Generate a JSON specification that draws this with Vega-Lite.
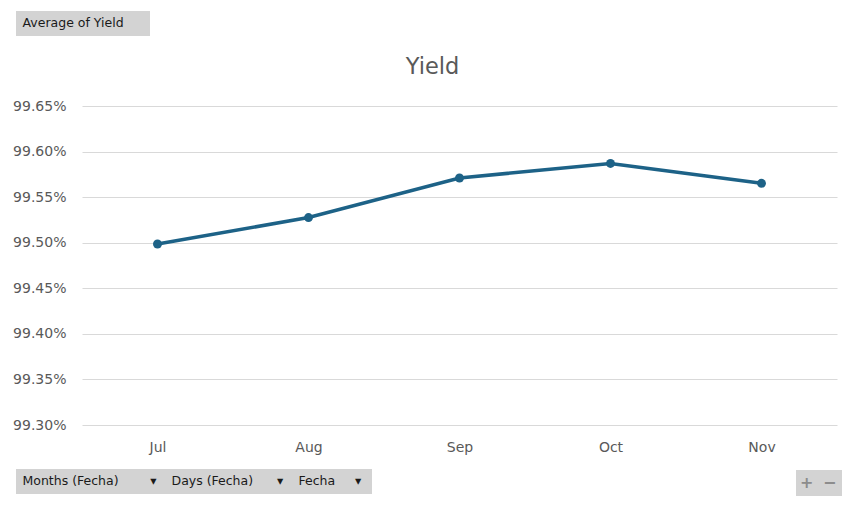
{
  "$schema": "https://vega.github.io/schema/vega-lite/v6.json",
  "width": 755,
  "height": 319,
  "autosize": {"type": "none"},
  "padding": {"left": 82, "top": 106, "right": 22, "bottom": 81},
  "background": "#ffffff",
  "title": {
    "text": "Yield",
    "font": "DejaVu Sans",
    "fontSize": 22.5,
    "fontWeight": "normal",
    "color": "#595959",
    "anchor": "middle",
    "frame": "group",
    "dx": -27,
    "baseline": "alphabetic",
    "offset": -85
  },
  "datasets": {
    "yield": [
      {"month": "Jul", "yield": 0.994986, "series": "Average of Yield"},
      {"month": "Aug", "yield": 0.995276, "series": "Average of Yield"},
      {"month": "Sep", "yield": 0.99571, "series": "Average of Yield"},
      {"month": "Oct", "yield": 0.99587, "series": "Average of Yield"},
      {"month": "Nov", "yield": 0.995652, "series": "Average of Yield"}
    ],
    "fields": [
      {"field": "Months (Fecha)"},
      {"field": "Days (Fecha)"},
      {"field": "Fecha"}
    ],
    "zoom": [
      {"btn": "+"},
      {"btn": "−"}
    ]
  },
  "layer": [
    {
      "data": {"name": "yield"},
      "mark": {"type": "line", "strokeWidth": 3.5},
      "encoding": {
        "x": {
          "field": "month", "type": "nominal", "sort": null,
          "scale": {"type": "point", "padding": 0.5},
          "axis": {"title": null, "labelAngle": 0, "ticks": false, "domain": false, "grid": false, "labelPadding": 15}
        },
        "y": {
          "field": "yield", "type": "quantitative",
          "scale": {"domain": [0.993, 0.9965], "zero": false, "nice": false},
          "axis": {
            "title": null, "format": ".2%", "ticks": false, "domain": false,
            "values": [0.993, 0.9935, 0.994, 0.9945, 0.995, 0.9955, 0.996, 0.9965],
            "labelPadding": 16, "gridColor": "#d9d9d9", "gridWidth": 1
          }
        },
        "color": {
          "field": "series", "type": "nominal",
          "scale": {"range": ["#1d6287"]},
          "legend": {
            "orient": "none", "legendX": -66, "legendY": -95, "title": null,
            "fillColor": "#d3d3d3", "padding": 6,
            "symbolSize": 0, "symbolOpacity": 0, "symbolStrokeWidth": 0, "labelOffset": -12,
            "labelFont": "DejaVu Sans", "labelFontSize": 12.5, "labelColor": "#1a1a1a",
            "labelExpr": "datum.label + '\u00a0\u00a0\u00a0\u00a0\u00a0\u200b'"
          }
        }
      }
    },
    {
      "data": {"name": "yield"},
      "mark": {"type": "point", "filled": true, "size": 80, "opacity": 1, "color": "#1d6287"},
      "encoding": {
        "x": {"field": "month", "type": "nominal", "sort": null},
        "y": {"field": "yield", "type": "quantitative"}
      }
    },
    {
      "data": {"name": "fields"},
      "mark": {"type": "point", "opacity": 0},
      "encoding": {
        "shape": {
          "field": "field", "type": "nominal", "sort": null,
          "legend": {
            "orient": "none", "legendX": -66, "legendY": 363, "title": null,
            "direction": "horizontal", "columns": 3, "columnPadding": 14,
            "fillColor": "#d3d3d3", "padding": 6,
            "symbolSize": 0, "symbolOpacity": 0, "symbolStrokeWidth": 0, "labelOffset": -12,
            "labelFont": "DejaVu Sans", "labelFontSize": 12.5, "labelColor": "#1a1a1a", "labelLimit": 300,
            "labelExpr": "datum.label + (datum.label == 'Months (Fecha)' ? '\u00a0\u00a0\u00a0\u00a0\u00a0\u00a0\u00a0\u00a0▾' : datum.label == 'Days (Fecha)' ? '\u00a0\u00a0\u00a0\u00a0\u00a0\u00a0▾' : '\u00a0\u00a0\u00a0\u00a0\u00a0▾\u00a0\u200b')"
          }
        }
      }
    },
    {
      "data": {"name": "zoom"},
      "mark": {"type": "point", "opacity": 0},
      "encoding": {
        "strokeDash": {
          "field": "btn", "type": "nominal", "sort": null,
          "legend": {
            "orient": "none", "legendX": 714, "legendY": 364, "title": null,
            "direction": "horizontal", "columns": 2, "columnPadding": 9,
            "fillColor": "#d3d3d3", "padding": 5,
            "symbolSize": 0, "symbolOpacity": 0, "symbolStrokeWidth": 0, "labelOffset": -17,
            "labelFont": "DejaVu Sans", "labelFontSize": 16, "labelFontWeight": "bold", "labelColor": "#8c8c8c"
          }
        }
      }
    }
  ],
  "config": {
    "view": {"stroke": null},
    "axis": {"labelFont": "DejaVu Sans", "labelFontSize": 14, "labelColor": "#595959"}
  }
}
